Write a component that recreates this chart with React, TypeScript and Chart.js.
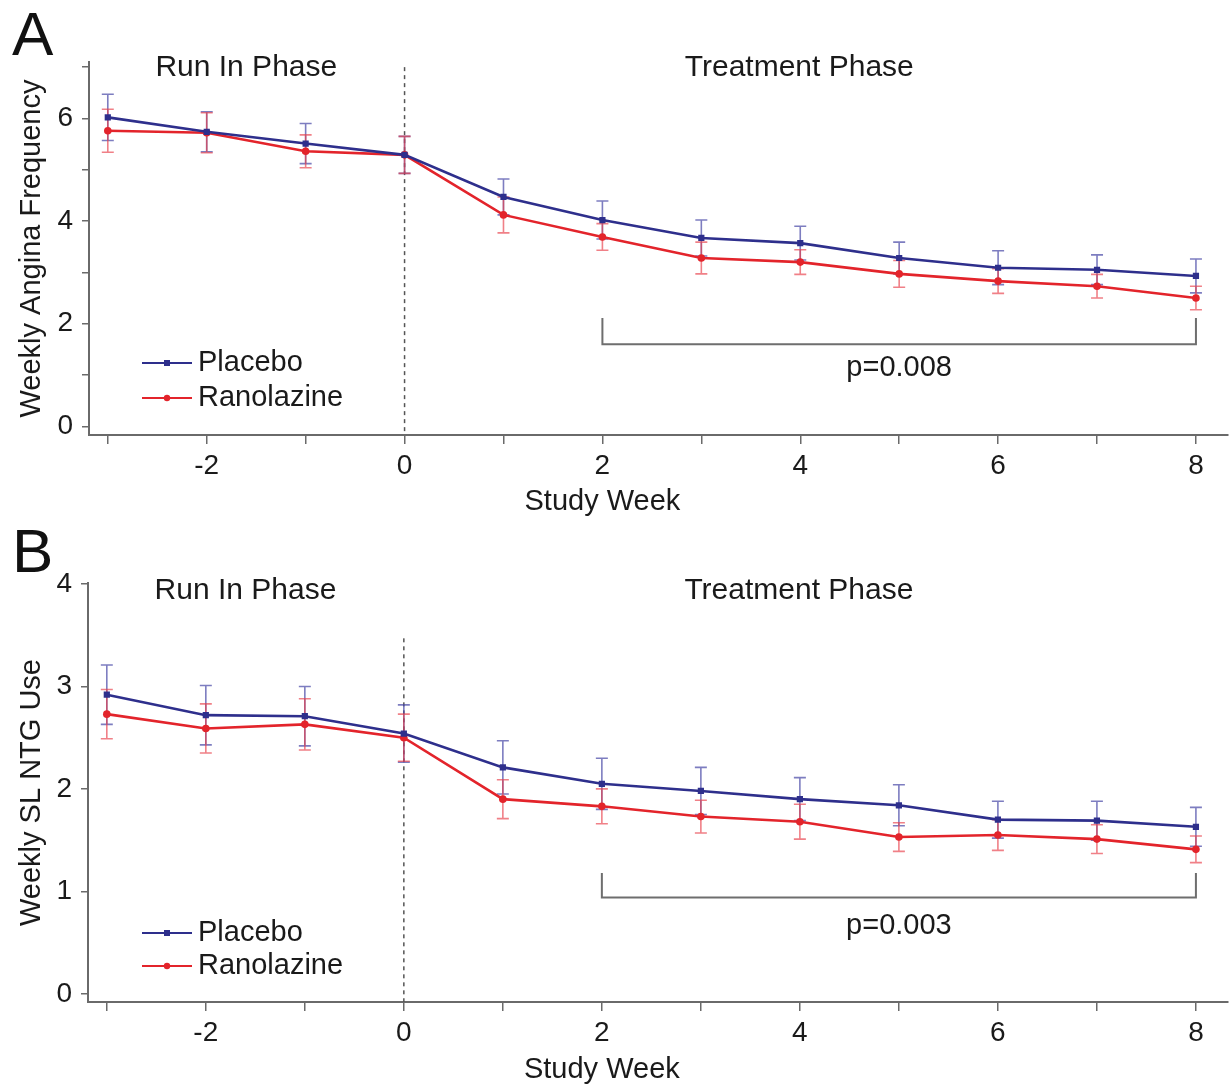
import { useEffect, useRef } from 'react';
import { Chart, registerables } from 'chart.js';

Chart.register(...registerables);

const FONT = "'Liberation Sans', Arial, Helvetica, sans-serif";

// ---------- data ----------
const weeks = [-3, -2, -1, 0, 1, 2, 3, 4, 5, 6, 7, 8];
const xTickValues = [-3, -2, -1, 0, 1, 2, 3, 4, 5, 6, 7, 8];
const xTickLabels = ['', '-2', '', '0', '', '2', '', '4', '', '6', '', '8'];
const xTitle = 'Study Week';

const seriesLabels = ['Placebo', 'Ranolazine'];

// Panel A: Weekly Angina Frequency
const anginaPlacebo = [6.02, 5.74, 5.51, 5.29, 4.47, 4.02, 3.67, 3.57, 3.28, 3.09, 3.05, 2.93];
const anginaRanolazine = [5.76, 5.72, 5.36, 5.29, 4.12, 3.69, 3.28, 3.2, 2.97, 2.83, 2.73, 2.5];
const anginaPlaceboErr = [0.45, 0.39, 0.39, 0.36, 0.35, 0.37, 0.35, 0.33, 0.31, 0.33, 0.29, 0.33];
const anginaRanolazineErr = [0.42, 0.39, 0.32, 0.36, 0.35, 0.26, 0.31, 0.24, 0.26, 0.24, 0.23, 0.23];
const anginaYTicks = [0, 1, 2, 3, 4, 5, 6, 7];
const anginaYLabels = ['0', '', '2', '', '4', '', '6', ''];

// Panel B: Weekly SL NTG Use
const ntgPlacebo = [2.92, 2.72, 2.71, 2.54, 2.21, 2.05, 1.98, 1.9, 1.84, 1.7, 1.69, 1.63];
const ntgRanolazine = [2.73, 2.59, 2.63, 2.5, 1.9, 1.83, 1.73, 1.68, 1.53, 1.55, 1.51, 1.41];
const ntgPlaceboErr = [0.29, 0.29, 0.29, 0.28, 0.26, 0.25, 0.23, 0.21, 0.2, 0.18, 0.19, 0.19];
const ntgRanolazineErr = [0.24, 0.24, 0.25, 0.23, 0.19, 0.17, 0.16, 0.17, 0.14, 0.15, 0.14, 0.13];
const ntgYTicks = [0, 1, 2, 3, 4];
const ntgYLabels = ['0', '1', '2', '3', '4'];

// ---------- styles ----------
const lineColors = ['#2e2f8c', '#e3242b'];
const errColors = ['rgba(70,70,165,0.7)', 'rgba(232,60,70,0.65)'];
const TEXT = '#1a1a1a';
const AXIS = '#6a6a6a';

type PanelSpec = {
  letter: string;
  yTitle: string;
  placebo: number[];
  ranolazine: number[];
  errs: number[][];
  yTicks: number[];
  yLabels: string[];
  yMin: number;
  yMax: number;
  height: number;
  padTop: number;
  axisWidth: number;
  xAxisHeight: number;
  dashTop: number;
  bracket: { from: number; to: number; y: number; top: number };
  pText: string;
  pY: number;
  phaseY: number;
  letterY: number;
  legendY: number;
  legendGap: number;
  xTitleY: number;
};

const panelA: PanelSpec = {
  letter: 'A',
  yTitle: 'Weekly Angina Frequency',
  placebo: anginaPlacebo,
  ranolazine: anginaRanolazine,
  errs: [anginaPlaceboErr, anginaRanolazineErr],
  yTicks: anginaYTicks,
  yLabels: anginaYLabels,
  yMin: -0.17,
  yMax: 7.1,
  height: 520,
  padTop: 62,
  axisWidth: 89,
  xAxisHeight: 85,
  dashTop: 7.0,
  bracket: { from: 2, to: 8, y: 1.6, top: 2.11 },
  pText: 'p=0.008',
  pY: 1.13,
  phaseY: 68,
  letterY: 55,
  legendY: 363,
  legendGap: 35,
  xTitleY: 502,
};

const panelB: PanelSpec = {
  letter: 'B',
  yTitle: 'Weekly SL NTG Use',
  placebo: ntgPlacebo,
  ranolazine: ntgRanolazine,
  errs: [ntgPlaceboErr, ntgRanolazineErr],
  yTicks: ntgYTicks,
  yLabels: ntgYLabels,
  yMin: -0.08,
  yMax: 4.01,
  height: 568,
  padTop: 63,
  axisWidth: 88,
  xAxisHeight: 86,
  dashTop: 3.47,
  bracket: { from: 2, to: 8, y: 0.94, top: 1.18 },
  pText: 'p=0.003',
  pY: 0.66,
  phaseY: 71,
  letterY: 52,
  legendY: 413,
  legendGap: 33,
  xTitleY: 550,
};

function makeDecor(spec: PanelSpec) {
  return {
    id: 'decor' + spec.letter,
    beforeDatasetsDraw(chart: any) {
      const { ctx, chartArea } = chart;
      const x = chart.scales.x;
      const y = chart.scales.y;
      ctx.save();
      // dashed separator at week 0
      const x0 = x.getPixelForValue(0);
      ctx.strokeStyle = '#555';
      ctx.lineWidth = 1.5;
      ctx.setLineDash([4, 4]);
      ctx.beginPath();
      ctx.moveTo(x0, y.getPixelForValue(spec.dashTop));
      ctx.lineTo(x0, chartArea.bottom);
      ctx.stroke();
      ctx.setLineDash([]);
      // error bars
      chart.data.datasets.forEach((ds: any, i: number) => {
        const errs = spec.errs[i];
        ctx.strokeStyle = errColors[i];
        ctx.lineWidth = 1.6;
        ds.data.forEach((p: any, j: number) => {
          const px = x.getPixelForValue(p.x);
          const t = y.getPixelForValue(p.y + errs[j]);
          const b = y.getPixelForValue(p.y - errs[j]);
          ctx.beginPath();
          ctx.moveTo(px, t);
          ctx.lineTo(px, b);
          ctx.moveTo(px - 6, t);
          ctx.lineTo(px + 6, t);
          ctx.moveTo(px - 6, b);
          ctx.lineTo(px + 6, b);
          ctx.stroke();
        });
      });
      ctx.restore();
    },
    afterDraw(chart: any) {
      const { ctx } = chart;
      const x = chart.scales.x;
      const y = chart.scales.y;
      ctx.save();
      // bracket
      const bx1 = x.getPixelForValue(spec.bracket.from);
      const bx2 = x.getPixelForValue(spec.bracket.to);
      const by = y.getPixelForValue(spec.bracket.y);
      const bt = y.getPixelForValue(spec.bracket.top);
      ctx.strokeStyle = '#6e6e6e';
      ctx.lineWidth = 2;
      ctx.beginPath();
      ctx.moveTo(bx1, bt);
      ctx.lineTo(bx1, by);
      ctx.lineTo(bx2, by);
      ctx.lineTo(bx2, bt);
      ctx.stroke();
      // p-value
      ctx.fillStyle = TEXT;
      ctx.font = `29px ${FONT}`;
      ctx.textAlign = 'center';
      ctx.textBaseline = 'middle';
      ctx.fillText(spec.pText, x.getPixelForValue(5), y.getPixelForValue(spec.pY));
      // phase labels
      ctx.font = `30px ${FONT}`;
      ctx.fillText('Run In Phase', x.getPixelForValue(-1.6), spec.phaseY);
      ctx.fillText('Treatment Phase', x.getPixelForValue(3.99), spec.phaseY);
      // x-axis title (centred under week 2 as in the original)
      ctx.font = `29px ${FONT}`;
      ctx.fillText(xTitle, x.getPixelForValue(2), spec.xTitleY);
      // panel letter
      ctx.textAlign = 'left';
      ctx.textBaseline = 'alphabetic';
      ctx.font = `62px ${FONT}`;
      ctx.fillStyle = '#111';
      ctx.fillText(spec.letter, 12, spec.letterY);
      // legend
      chart.data.datasets.forEach((ds: any, i: number) => {
        const ly = spec.legendY + i * spec.legendGap;
        ctx.strokeStyle = ds.borderColor;
        ctx.lineWidth = 2;
        ctx.beginPath();
        ctx.moveTo(142, ly);
        ctx.lineTo(192, ly);
        ctx.stroke();
        ctx.fillStyle = ds.borderColor;
        if (i === 0) {
          ctx.fillRect(164, ly - 3, 6, 6);
        } else {
          ctx.beginPath();
          ctx.arc(167, ly, 3.2, 0, Math.PI * 2);
          ctx.fill();
        }
        ctx.fillStyle = TEXT;
        ctx.font = `29px ${FONT}`;
        ctx.textAlign = 'left';
        ctx.textBaseline = 'middle';
        ctx.fillText(ds.label, 198, ly);
      });
      ctx.restore();
    },
  };
}

function buildConfig(spec: PanelSpec): any {
  const seriesData = [spec.placebo, spec.ranolazine];
  return {
    type: 'line',
    data: {
      datasets: seriesData.map((vals, i) => ({
        label: seriesLabels[i],
        data: weeks.map((w, j) => ({ x: w, y: vals[j] })),
        borderColor: lineColors[i],
        backgroundColor: lineColors[i],
        borderWidth: 2.6,
        pointStyle: i === 0 ? 'rect' : 'circle',
        pointRadius: i === 0 ? 4.4 : 3.8,
        pointBorderWidth: 0,
        tension: 0,
        fill: false,
      })),
    },
    options: {
      responsive: false,
      maintainAspectRatio: false,
      animation: false,
      events: [],
      layout: { padding: { top: spec.padTop, left: 0, right: 0, bottom: 0 } },
      plugins: { legend: { display: false }, tooltip: { enabled: false }, title: { display: false } },
      scales: {
        x: {
          type: 'linear',
          position: 'bottom',
          min: -3.19,
          max: 8.32,
          afterBuildTicks: (s: any) => {
            s.ticks = xTickValues.map((v) => ({ value: v }));
          },
          afterFit: (s: any) => {
            s.height = spec.xAxisHeight;
          },
          ticks: {
            autoSkip: false,
            maxRotation: 0,
            minRotation: 0,
            padding: 5,
            color: TEXT,
            font: { family: FONT, size: 28 },
            callback: (v: number) => {
              const k = xTickValues.indexOf(v);
              return k >= 0 ? xTickLabels[k] : '';
            },
          },
          grid: { drawOnChartArea: false, drawTicks: true, tickLength: 9, color: AXIS, lineWidth: 1.5 },
          border: { display: true, color: AXIS, width: 2 },
          title: { display: false },
        },
        y: {
          type: 'linear',
          position: 'left',
          min: spec.yMin,
          max: spec.yMax,
          afterBuildTicks: (s: any) => {
            s.ticks = spec.yTicks.map((v) => ({ value: v }));
          },
          afterFit: (s: any) => {
            s.width = spec.axisWidth;
          },
          ticks: {
            autoSkip: false,
            padding: 9,
            color: TEXT,
            font: { family: FONT, size: 28 },
            callback: (v: number) => {
              const k = spec.yTicks.indexOf(v);
              return k >= 0 ? spec.yLabels[k] : '';
            },
          },
          grid: { drawOnChartArea: false, drawTicks: true, tickLength: 7, color: AXIS, lineWidth: 1.5 },
          border: { display: true, color: AXIS, width: 2 },
          title: {
            display: true,
            text: spec.yTitle,
            color: TEXT,
            font: { family: FONT, size: 29 },
            padding: { top: 15, bottom: 0 },
          },
        },
      },
    },
    plugins: [makeDecor(spec)],
  };
}

function Panel({ spec }: { spec: PanelSpec }) {
  const ref = useRef<HTMLCanvasElement | null>(null);
  useEffect(() => {
    if (!ref.current) return;
    const chart = new Chart(ref.current, buildConfig(spec));
    return () => chart.destroy();
  }, [spec]);
  return (
    <canvas
      ref={ref}
      width={1232}
      height={spec.height}
      style={{ display: 'block', width: 1232, height: spec.height }}
    />
  );
}

export default function App() {
  return (
    <div style={{ position: 'absolute', left: 0, top: 0, width: 1232, height: 1088, background: '#fff' }}>
      <Panel spec={panelA} />
      <Panel spec={panelB} />
    </div>
  );
}
